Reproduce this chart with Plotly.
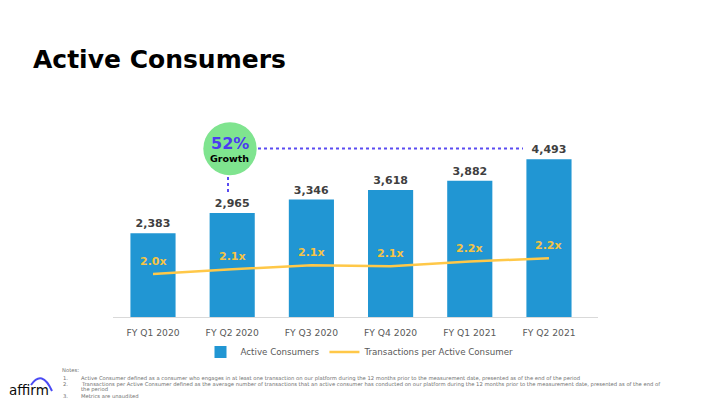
import plotly.graph_objects as go

# ---------------- data ----------------
categories = ["FY Q1 2020", "FY Q2 2020", "FY Q3 2020", "FY Q4 2020", "FY Q1 2021", "FY Q2 2021"]
active_consumers = [2383, 2965, 3346, 3618, 3882, 4493]          # thousands
transactions_per_consumer = [2.00, 2.06, 2.11, 2.10, 2.16, 2.20]
growth_label = "52%"
title_text = "Active Consumers"
notes = [
    ("", "Notes:"),
    ("1.", "Active Consumer defined as a consumer who engages in at least one transaction on our platform during the 12 months prior to the measurement date, presented as of the end of the period"),
    ("2.", "Transactions per Active Consumer defined as the average number of transactions that an active consumer has conducted on our platform during the 12 months prior to the measurement date, presented as of the end of"),
    ("", "the period"),
    ("3.", "Metrics are unaudited"),
]

W, H = 720, 405
FONT = "DejaVu Sans"
BAR_COLOR = "#2196D3"
LINE_COLOR = "#FFC848"
LABEL_YELLOW = "#F5C445"
DOT_COLOR = "#5A4BF2"


def px(x):
    return x / W


def py(y):
    return 1 - y / H


fig = go.Figure()

fig.add_trace(go.Bar(
    x=categories, y=active_consumers, name="Active Consumers",
    marker=dict(color=BAR_COLOR, line=dict(width=0)),
    width=0.57,
    texttemplate="%{y:,}", textposition="outside", cliponaxis=False,
    textfont=dict(family=FONT, size=11, color="#404040", weight="bold"),
    yaxis="y",
))

fig.add_trace(go.Scatter(
    x=categories, y=transactions_per_consumer, name="Transactions per Active Consumer",
    mode="lines", line=dict(color=LINE_COLOR, width=2.5),
    yaxis="y2", cliponaxis=False,
))

annotations = []
# line value labels
for c, v in zip(categories, transactions_per_consumer):
    annotations.append(dict(
        x=c, y=v, xref="x", yref="y2", text=f"<b>{v:.1f}x</b>", showarrow=False,
        yshift=13, font=dict(family=FONT, size=11, color=LABEL_YELLOW),
    ))

# title
annotations.append(dict(
    x=px(31), y=py(59), xref="paper", yref="paper", xanchor="left", yanchor="middle",
    text=f"<b>{title_text}</b>", showarrow=False,
    font=dict(family=FONT, size=25, color="#000000"),
))

# growth bubble texts
annotations.append(dict(
    x=px(230), y=py(143.6), xref="paper", yref="paper", xanchor="center", yanchor="middle",
    text=f"<b>{growth_label}</b>", showarrow=False, borderpad=0,
    font=dict(family=FONT, size=16, color="#4B3CF0"),
))
annotations.append(dict(
    x=px(230), y=py(158.2), xref="paper", yref="paper", xanchor="center", yanchor="middle",
    text="<b>Growth</b>", showarrow=False, borderpad=0,
    font=dict(family=FONT, size=9.5, color="#000000"),
))

# notes
note_rows = [370, 378, 384, 389.5, 395.5]
for (num, txt), yy in zip(notes, note_rows):
    if num:
        annotations.append(dict(
            x=px(62), y=py(yy), xref="paper", yref="paper", xanchor="left", yanchor="middle",
            text=num, showarrow=False, borderpad=0,
            font=dict(family=FONT, size=5.25, color="#6F6F6F"),
        ))
    annotations.append(dict(
        x=px(61 if txt == "Notes:" else 80), y=py(yy), xref="paper", yref="paper",
        xanchor="left", yanchor="middle", borderpad=0,
        text=txt, showarrow=False, font=dict(family=FONT, size=5.25, color="#6F6F6F"),
    ))

# affirm logo text
annotations.append(dict(
    x=px(7), y=py(390), xref="paper", yref="paper", xanchor="left", yanchor="middle",
    text="affirm", showarrow=False, font=dict(family=FONT, size=13.5, color="#0A0A0A"),
))

shapes = [
    # growth bubble
    dict(type="circle", xref="paper", yref="paper",
         x0=px(203.3), x1=px(256.7), y0=py(175.2), y1=py(122.2),
         fillcolor="#7FE48F", line=dict(width=0), layer="below"),
    # horizontal dotted line
    dict(type="line", xref="paper", yref="paper",
         x0=px(258), x1=px(523), y0=py(148.5), y1=py(148.5),
         line=dict(color=DOT_COLOR, width=2, dash="dot")),
    # vertical dotted line
    dict(type="line", xref="paper", yref="paper",
         x0=px(228), x1=px(228), y0=py(177), y1=py(195),
         line=dict(color=DOT_COLOR, width=2, dash="dot")),
    # affirm arc
    dict(type="path", xref="paper", yref="paper",
         path=f"M {px(31)} {py(385)} Q {px(42)} {py(369)} {px(52)} {py(391)}",
         line=dict(color="#4A4AF4", width=2)),
]

fig.update_layout(
    width=W, height=H,
    margin=dict(l=0, r=0, t=0, b=0),
    paper_bgcolor="white", plot_bgcolor="white",
    font=dict(family=FONT, color="#595959"),
    showlegend=True,
    legend=dict(orientation="h", x=0.5, xanchor="center", y=py(352), yanchor="middle",
                font=dict(family=FONT, size=8.7, color="#595959"),
                traceorder="normal", itemwidth=30, bgcolor="rgba(0,0,0,0)"),
    xaxis=dict(domain=[px(113.4), px(598)], range=[-0.5, 5.619],
               showgrid=False, zeroline=False, showline=True, linecolor="#D9D9D9", linewidth=1,
               ticks="", ticklabelstandoff=7,
               tickfont=dict(family=FONT, size=9.2, color="#595959"),
               fixedrange=True),
    yaxis=dict(domain=[py(317), py(140)], range=[0, 5042.7], visible=False, fixedrange=True),
    yaxis2=dict(domain=[py(317), py(140)], range=[1.4522, 3.707], overlaying="y",
                visible=False, fixedrange=True),
    bargap=0.43,
    annotations=annotations,
    shapes=shapes,
)

fig.write_html(
    "out.html",
    config={"displayModeBar": False},
    post_script="document.body.style.margin='0';document.body.style.overflow='hidden';",
)
